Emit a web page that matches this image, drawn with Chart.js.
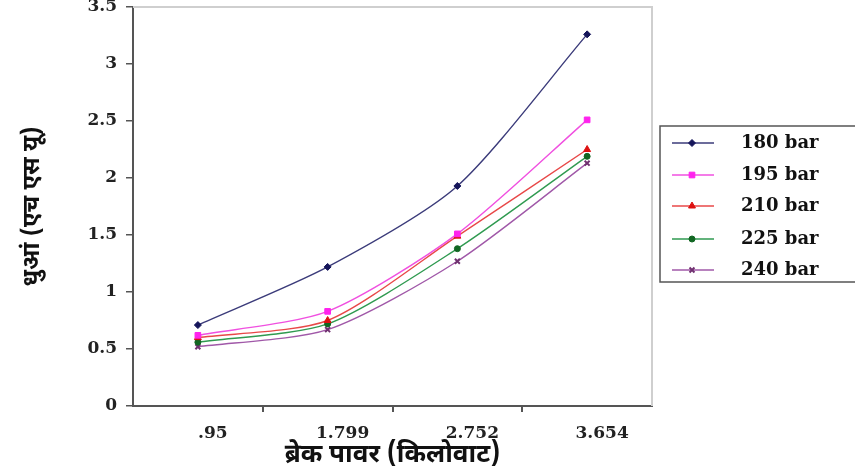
<!DOCTYPE html>
<html>
<head>
<meta charset="utf-8">
<script src="https://cdn.jsdelivr.net/npm/chart.js@4.4.0/dist/chart.umd.min.js"></script>
<style>
  html, body { margin: 0; padding: 0; background: #fff; }
  #wrap { width: 855px; height: 466px; }
</style>
</head>
<body>
<div id="wrap"><canvas id="smokeChart"></canvas></div>
<script>
// --- Data ---
const categories = ['.95', '1.799', '2.752', '3.654'];
const seriesNames = ['180 bar', '195 bar', '210 bar', '225 bar', '240 bar'];
const bar180 = [0.71, 1.22, 1.93, 3.26];
const bar195 = [0.62, 0.83, 1.51, 2.51];
const bar210 = [0.60, 0.75, 1.49, 2.25];
const bar225 = [0.56, 0.72, 1.38, 2.19];
const bar240 = [0.52, 0.67, 1.27, 2.13];
const yTicks = [0, 0.5, 1, 1.5, 2, 2.5, 3, 3.5];

const yTitle = 'धुआं (एच एस यू)';
const xTitle = 'ब्रेक पावर (किलोवाट)';

// Styles
const lineColors = ['#3b3b7a', '#f050e0', '#e84848', '#2f9a50', '#a058a8'];
const markColors = ['#15155a', '#ff22ee', '#dd1111', '#116622', '#703070'];
const markStyles = ['rectRot', 'rect', 'triangle', 'circle', 'crossRot'];
const markSizes = [3.5, 4, 4, 3, 3.5];

const serif = "'DejaVu Serif', 'Liberation Serif', serif";
const deva = "'Noto Sans Devanagari', 'Noto Serif Devanagari', 'Lohit Devanagari', 'FreeSerif', 'Noto Sans', sans-serif";

const allSeries = [bar180, bar195, bar210, bar225, bar240];

const datasets = allSeries.map((vals, i) => ({
    label: seriesNames[i],
    data: vals,
    borderColor: lineColors[i],
    backgroundColor: markColors[i],
    pointBorderColor: markColors[i],
    pointBackgroundColor: markColors[i],
    pointStyle: markStyles[i],
    pointRadius: markSizes[i],
    pointBorderWidth: markStyles[i] === 'crossRot' ? 2 : 1,
    borderWidth: 1.4,
    tension: 0.25,
    fill: false
}));

// frame (top/right) + boxed legend
const framePlugin = {
    id: 'frame',
    beforeDatasetsDraw(chart) {
        const { ctx, chartArea: a } = chart;
        ctx.save();
        ctx.strokeStyle = '#cfcfcf';
        ctx.lineWidth = 2;
        ctx.beginPath();
        ctx.moveTo(a.left, a.top);
        ctx.lineTo(a.right, a.top);
        ctx.lineTo(a.right, a.bottom);
        ctx.stroke();
        ctx.restore();
    },
    afterDraw(chart) {
        const { ctx } = chart;
        const boxX = 660, boxY = 126, boxH = 156;
        const rowY = [143, 175, 206, 239, 270];
        ctx.save();
        ctx.strokeStyle = '#555';
        ctx.lineWidth = 1.5;
        ctx.strokeRect(boxX, boxY, 210, boxH);
        ctx.font = 'bold 18px ' + serif;
        ctx.textBaseline = 'middle';
        chart.data.datasets.forEach((ds, i) => {
            const y = rowY[i];
            ctx.strokeStyle = ds.borderColor;
            ctx.lineWidth = 1.3;
            ctx.beginPath();
            ctx.moveTo(672, y);
            ctx.lineTo(714, y);
            ctx.stroke();
            ctx.fillStyle = ds.pointBackgroundColor;
            ctx.strokeStyle = ds.pointBorderColor;
            ctx.lineWidth = ds.pointBorderWidth;
            Chart.helpers.drawPoint(ctx, {
                pointStyle: ds.pointStyle,
                radius: ds.pointRadius,
                borderWidth: ds.pointBorderWidth,
                rotation: 0
            }, 692, y);
            ctx.fillStyle = '#111';
            ctx.fillText(ds.label, 741, y);
        });
        ctx.restore();
    }
};

const ctx = document.getElementById('smokeChart').getContext('2d');
new Chart(ctx, {
    type: 'line',
    data: { labels: categories, datasets: datasets },
    options: {
        responsive: true,
        maintainAspectRatio: false,
        animation: false,
        layout: { padding: { top: 7, right: 203, left: 0, bottom: 0 } },
        plugins: {
            legend: { display: false },
            tooltip: { enabled: false }
        },
        scales: {
            x: {
                type: 'category',
                offset: true,
                afterFit: s => { s.height = 60; s.paddingLeft = 0; s.paddingRight = 0; },
                border: { display: true, color: '#555', width: 2 },
                grid: {
                    offset: true,
                    drawOnChartArea: false,
                    tickLength: 6,
                    lineWidth: 2,
                    color: c => (c.index > 0 && c.index < 4) ? '#555' : 'rgba(0,0,0,0)'
                },
                ticks: {
                    color: '#222',
                    font: { family: serif, size: 17, weight: 'bold' },
                    labelOffset: 15,
                    padding: 11,
                    maxRotation: 0
                },
                title: {
                    display: true,
                    text: xTitle,
                    color: '#111',
                    font: { family: deva, size: 26, weight: 'bold', lineHeight: 1 },
                    padding: { top: 0, bottom: -4 }
                }
            },
            y: {
                min: 0,
                max: 3.5,
                afterFit: s => { s.width = 133; s.paddingTop = 0; s.paddingBottom = 0; },
                afterBuildTicks: s => { s.ticks = yTicks.map(v => ({ value: v })); },
                border: { display: true, color: '#555', width: 2 },
                grid: {
                    drawOnChartArea: false,
                    tickLength: 7,
                    lineWidth: 1.5,
                    color: '#555'
                },
                ticks: {
                    color: '#222',
                    font: { family: serif, size: 17, weight: 'bold' },
                    padding: 9,
                    callback: v => String(v)
                },
                title: {
                    display: true,
                    text: yTitle,
                    color: '#111',
                    font: { family: deva, size: 24, weight: 'bold' },
                    padding: { top: 20, bottom: 0 }
                }
            }
        }
    },
    plugins: [framePlugin]
});
</script>
</body>
</html>
